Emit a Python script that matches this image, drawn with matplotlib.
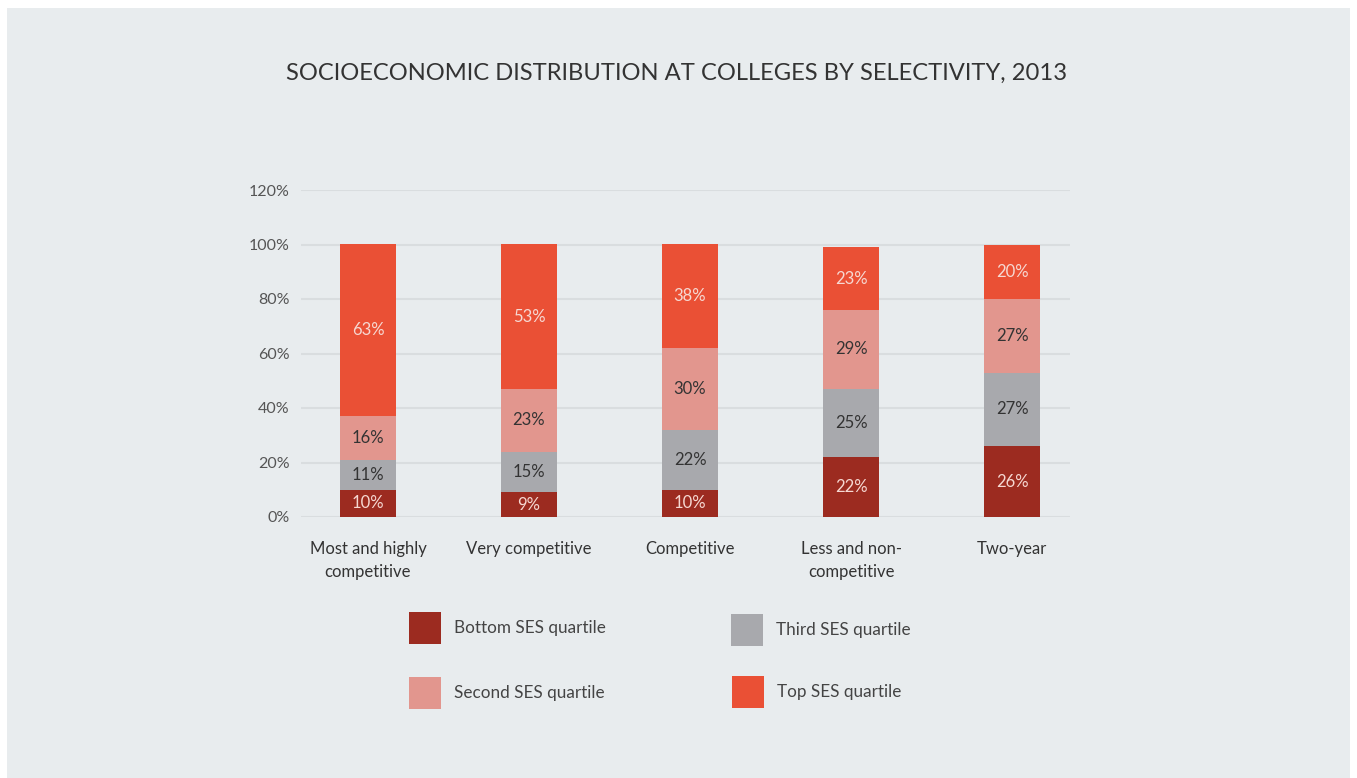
import matplotlib
matplotlib.use("Agg")
import matplotlib.pyplot as plt
from matplotlib.patches import Rectangle
import numpy as np

plt.rcParams['font.family'] = ['Lato', 'DejaVu Sans']

categories = ["Most and highly\ncompetitive", "Very competitive", "Competitive",
              "Less and non-\ncompetitive", "Two-year"]
bottom_q = [10, 9, 10, 22, 26]
third_q = [11, 15, 22, 25, 27]
second_q = [16, 23, 30, 29, 27]
top_q = [63, 53, 38, 23, 20]
yticks = [0, 20, 40, 60, 80, 100, 120]
ytick_labels = ["0%", "20%", "40%", "60%", "80%", "100%", "120%"]
legend_order = ["Bottom SES quartile", "Second SES quartile", "Third SES quartile", "Top SES quartile"]

colors = {"Bottom SES quartile": "#9c2b20",
          "Third SES quartile": "#a8a9ad",
          "Second SES quartile": "#e2968e",
          "Top SES quartile": "#ea5035"}
label_colors = {"Bottom SES quartile": "#f6d8d2",
                "Third SES quartile": "#333333",
                "Second SES quartile": "#333333",
                "Top SES quartile": "#f6d8d2"}

W, H = 1357, 778
fig = plt.figure(figsize=(W / 100, H / 100), dpi=100, facecolor="white")
bg = "#e8ecee"
fig.patches.append(Rectangle((7 / W, 0), (1350 - 7) / W, 1 - 8 / H, transform=fig.transFigure,
                             facecolor=bg, edgecolor="none", zorder=-10))

ax = fig.add_axes([301 / W, 1 - 517 / H, (1070 - 301) / W, (517 - 190) / H])
ax.set_facecolor("none")

x = np.arange(len(categories))
width = 0.35
stack = [("Bottom SES quartile", bottom_q), ("Third SES quartile", third_q),
         ("Second SES quartile", second_q), ("Top SES quartile", top_q)]
base = np.zeros(len(categories))
for name, vals in stack:
    vals = np.array(vals, dtype=float)
    ax.bar(x, vals, width, bottom=base, color=colors[name], edgecolor="none", zorder=3)
    for xi, b, v in zip(x, base, vals):
        ax.text(xi, b + v / 2, f"{int(v)}%", ha="center", va="center", fontsize=12,
                color=label_colors[name], zorder=4)
    base += vals

ax.set_xlim(-0.416, 4.36)
ax.set_ylim(0, 120)
ax.set_yticks(yticks)
ax.set_yticklabels(ytick_labels)
ax.set_xticks(x)
ax.set_xticklabels(categories, linespacing=1.55)
ax.tick_params(axis="y", length=0, pad=8, labelsize=11.5, labelcolor="#555555")
ax.tick_params(axis="x", length=0, pad=17, labelsize=12, labelcolor="#333333")
ax.grid(axis="y", color="#d9dddf", linewidth=1.5, zorder=0)
ax.set_axisbelow(True)
for s in ax.spines.values():
    s.set_visible(False)

fig.text(677 / W, 1 - 73 / H, "SOCIOECONOMIC DISTRIBUTION AT COLLEGES BY SELECTIVITY, 2013",
         ha="center", va="center", fontsize=17.1, color="#333333", fontweight="normal")

# legend drawn as a 2x2 grid of swatches
sw = 32
legend_pos = {"Bottom SES quartile": (409, 612), "Second SES quartile": (409, 677),
              "Third SES quartile": (731, 614), "Top SES quartile": (732, 676)}
for name in legend_order:
    lx, ly = legend_pos[name]
    fig.patches.append(Rectangle((lx / W, 1 - (ly + sw) / H), sw / W, sw / H,
                                 transform=fig.transFigure, facecolor=colors[name],
                                 edgecolor="none"))
    fig.text((lx + sw + 13) / W, 1 - (ly + sw / 2) / H, name, ha="left", va="center",
             fontsize=12.3, color="#444444")

fig.savefig("out.png", dpi=100, facecolor="white")
